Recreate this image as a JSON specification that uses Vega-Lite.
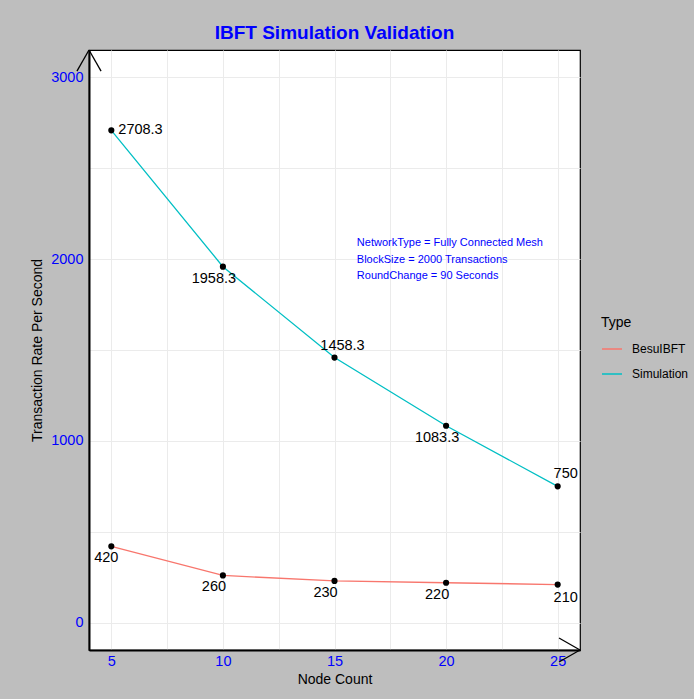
{
  "$schema": "https://vega.github.io/schema/vega-lite/v6.json",
  "autosize": {"type": "none"},
  "padding": {"left": 89, "top": 50, "right": 114, "bottom": 49},
  "width": 491,
  "height": 600,
  "background": "#BEBEBE",
  "title": {
    "text": "IBFT Simulation Validation",
    "color": "#0000FF",
    "fontSize": 19,
    "fontWeight": "bold",
    "font": "Liberation Sans",
    "anchor": "middle",
    "frame": "group",
    "offset": 6
  },
  "config": {
    "font": "Liberation Sans",
    "view": {"fill": "white", "stroke": "black", "strokeWidth": 1.2},
    "axis": {
      "grid": true,
      "gridColor": "#EBEBEB",
      "gridWidth": 1,
      "ticks": false,
      "domainColor": "black",
      "domainWidth": 2,
      "labelColor": "#0000FF",
      "labelFontSize": 14.5,
      "labelFont": "Liberation Sans",
      "titleFont": "Liberation Sans",
      "titleFontSize": 14,
      "titleFontWeight": "normal",
      "titleColor": "black"
    }
  },
  "layer": [
    {
      "data": {
        "values": [
          {"Nodes": 5, "Rate": 420, "Type": "BesuIBFT"},
          {"Nodes": 10, "Rate": 260, "Type": "BesuIBFT"},
          {"Nodes": 15, "Rate": 230, "Type": "BesuIBFT"},
          {"Nodes": 20, "Rate": 220, "Type": "BesuIBFT"},
          {"Nodes": 25, "Rate": 210, "Type": "BesuIBFT"},
          {"Nodes": 5, "Rate": 2708.3, "Type": "Simulation"},
          {"Nodes": 10, "Rate": 1958.3, "Type": "Simulation"},
          {"Nodes": 15, "Rate": 1458.3, "Type": "Simulation"},
          {"Nodes": 20, "Rate": 1083.3, "Type": "Simulation"},
          {"Nodes": 25, "Rate": 750, "Type": "Simulation"}
        ]
      },
      "encoding": {
        "x": {
          "field": "Nodes",
          "type": "quantitative",
          "title": "Node Count",
          "scale": {"domain": [4, 26], "nice": false, "zero": false},
          "axis": {
            "values": [5, 7.5, 10, 12.5, 15, 17.5, 20, 22.5, 25],
            "labelExpr": "datum.value % 5 == 0 ? datum.label : ''",
            "labelPadding": 4,
            "titlePadding": 5
          }
        },
        "y": {
          "field": "Rate",
          "type": "quantitative",
          "title": "Transaction Rate Per Second",
          "scale": {"domain": [-150, 3150], "nice": false, "zero": false},
          "axis": {
            "values": [0, 500, 1000, 1500, 2000, 2500, 3000],
            "labelExpr": "datum.value % 1000 == 0 ? datum.label : ''",
            "format": "d",
            "labelPadding": 6,
            "titlePadding": 6
          }
        }
      },
      "layer": [
        {
          "mark": {"type": "line", "strokeWidth": 1.3},
          "encoding": {
            "color": {
              "field": "Type",
              "type": "nominal",
              "scale": {"domain": ["BesuIBFT", "Simulation"], "range": ["#F8766D", "#00BFC4"]},
              "legend": {
                "title": "Type",
                "orient": "none",
                "legendX": 512,
                "legendY": 266,
                "titleFontSize": 14,
                "titleFontWeight": "normal",
                "titleColor": "black",
                "titlePadding": 8,
                "labelFontSize": 12,
                "labelColor": "black",
                "labelOffset": 9,
                "symbolType": "stroke",
                "symbolSize": 400,
                "symbolStrokeWidth": 1.5,
                "rowPadding": 8
              }
            }
          }
        },
        {
          "mark": {"type": "point", "filled": true, "color": "black", "size": 38, "opacity": 1}
        },
        {
          "transform": [{"filter": {"field": "Rate", "oneOf": [2708.3]}}],
          "mark": {"type": "text", "align": "left", "baseline": "middle", "dx": 7, "dy": 0, "fontSize": 14.5, "color": "black"},
          "encoding": {"text": {"field": "Rate", "type": "nominal"}}
        },
        {
          "transform": [{"filter": {"field": "Rate", "oneOf": [1958.3, 1083.3, 260, 230, 220]}}],
          "mark": {"type": "text", "align": "center", "baseline": "middle", "dx": -9, "dy": 12, "fontSize": 14.5, "color": "black"},
          "encoding": {"text": {"field": "Rate", "type": "nominal"}}
        },
        {
          "transform": [{"filter": {"field": "Rate", "oneOf": [420]}}],
          "mark": {"type": "text", "align": "center", "baseline": "middle", "dx": -5, "dy": 12, "fontSize": 14.5, "color": "black"},
          "encoding": {"text": {"field": "Rate", "type": "nominal"}}
        },
        {
          "transform": [{"filter": {"field": "Rate", "oneOf": [1458.3, 750]}}],
          "mark": {"type": "text", "align": "center", "baseline": "middle", "dx": 8, "dy": -12, "fontSize": 14.5, "color": "black"},
          "encoding": {"text": {"field": "Rate", "type": "nominal"}}
        },
        {
          "transform": [{"filter": {"field": "Rate", "oneOf": [210]}}],
          "mark": {"type": "text", "align": "center", "baseline": "middle", "dx": 8, "dy": 13, "fontSize": 14.5, "color": "black"},
          "encoding": {"text": {"field": "Rate", "type": "nominal"}}
        }
      ]
    },
    {
      "data": {"values": [{"note": "NetworkType = Fully Connected Mesh\nBlockSize = 2000 Transactions\nRoundChange = 90 Seconds", "nx": 16, "ny": 2120}]},
      "mark": {"type": "text", "align": "left", "baseline": "top", "fontSize": 11, "color": "#0000FF", "lineBreak": "\n", "lineHeight": 16.5},
      "encoding": {
        "x": {"field": "nx", "type": "quantitative", "title": "Node Count"},
        "y": {"field": "ny", "type": "quantitative", "title": "Transaction Rate Per Second"},
        "text": {"field": "note", "type": "nominal"}
      }
    },
    {
      "data": {
        "values": [
          {"ax": 4, "ay": 3150, "bx": 3.46, "by": 3034},
          {"ax": 4, "ay": 3150, "bx": 4.54, "by": 3034},
          {"ax": 26, "ay": -150, "bx": 25.06, "by": -84},
          {"ax": 26, "ay": -150, "bx": 25.06, "by": -216}
        ]
      },
      "mark": {"type": "rule", "color": "black", "strokeWidth": 1.3, "clip": false},
      "encoding": {
        "x": {"field": "ax", "type": "quantitative", "title": "Node Count"},
        "y": {"field": "ay", "type": "quantitative", "title": "Transaction Rate Per Second"},
        "x2": {"field": "bx"},
        "y2": {"field": "by"}
      }
    }
  ]
}
